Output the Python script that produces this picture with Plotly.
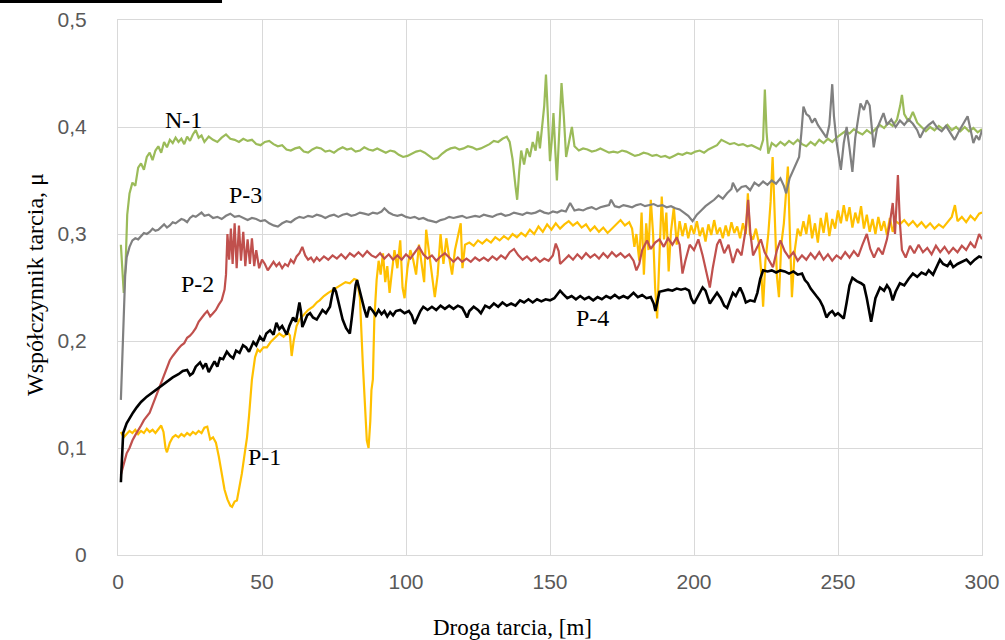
import plotly.graph_objects as go

# ---- friction coefficient vs sliding distance ----

# N-1 (green)
n1_dist = [1, 1.5, 2, 2.6, 3.2, 4, 5, 6, 7, 8, 9, 10, 11, 12, 13, 14, 15, 16, 17, 18, 19, 20,
           21, 22, 23, 24, 25, 26, 27, 28, 29, 30, 31.5, 33, 34.5, 36, 37.5, 39, 40.5, 42, 43.5,
           45, 46.5, 48, 49.5, 51, 52.5, 54, 55.5, 57, 58.5, 60, 61.5, 63, 64.5, 66, 67.5, 69,
           70.5, 72, 73.5, 75, 76.5, 78, 79.5, 81, 82.5, 84, 85.5, 87, 88.5, 90, 91.5, 93, 94.5,
           96, 97.5, 99, 100.5, 102, 103.5, 105, 106.5, 108, 109.5, 111, 112.5, 114, 115.5, 117,
           118.5, 120, 121.5, 123, 124.5, 126, 127.5, 129, 130.5, 132, 133.5, 135, 136, 137, 138,
           138.6, 139.3, 140, 141, 142, 143, 144, 145, 145.8, 146.5, 147.2, 148, 148.6, 149.3,
           150, 150.7, 151.2, 151.8, 152.4, 153.2, 154, 154.8, 155.6, 156.6, 157.6, 158.5, 160,
           161.5, 163, 164.5, 166, 167.5, 169, 170.5, 172, 173.5, 175, 176.5, 178, 179.5, 181,
           182.5, 184, 185.5, 187, 188.5, 190, 191.5, 193, 194.5, 196, 197.5, 199, 200.5, 202,
           203.5, 205, 206.5, 208, 209.5, 211, 212.5, 214, 215.5, 217, 218.5, 220, 221.5, 223,
           224, 224.6, 225.2, 225.8, 227, 228.5, 230, 231.5, 233, 234.5, 236, 237.5, 239, 240.5,
           242, 243.5, 245, 246.5, 248, 249.5, 251, 252.5, 254, 255.5, 257, 258.5, 260, 261.5,
           263, 264.5, 266, 267.5, 269, 270.5, 271.6, 272.2, 273, 274.5, 276, 277.5, 279, 280.5,
           282, 283.5, 285, 286.5, 288, 289.5, 291, 292.5, 294, 295.5, 297, 298.5, 300]
n1_mu = [0.290, 0.262, 0.245, 0.268, 0.318, 0.338, 0.348, 0.345, 0.362, 0.366, 0.360, 0.372,
         0.376, 0.369, 0.378, 0.382, 0.376, 0.386, 0.381, 0.388, 0.385, 0.390, 0.386, 0.389,
         0.384, 0.391, 0.387, 0.393, 0.397, 0.390, 0.392, 0.386,
         0.391, 0.388, 0.386, 0.390, 0.393, 0.389, 0.388, 0.386, 0.389, 0.387,
         0.388, 0.384, 0.383, 0.386, 0.387, 0.384, 0.382, 0.383, 0.379, 0.378,
         0.380, 0.381, 0.377, 0.376, 0.379, 0.381, 0.380, 0.377, 0.378, 0.376,
         0.379, 0.381, 0.379, 0.380, 0.377, 0.378, 0.381, 0.379, 0.378, 0.380,
         0.378, 0.376, 0.378, 0.377, 0.374, 0.372, 0.373, 0.375, 0.377, 0.378,
         0.376, 0.373, 0.370, 0.371, 0.375, 0.378, 0.380, 0.381, 0.379, 0.380,
         0.382, 0.381, 0.379, 0.380, 0.382, 0.384, 0.387, 0.386, 0.389, 0.391,
         0.386, 0.370, 0.345, 0.332, 0.358, 0.378, 0.365, 0.380, 0.372, 0.386, 0.378, 0.396,
         0.380, 0.400, 0.420, 0.449, 0.410, 0.368, 0.390, 0.413, 0.380, 0.350, 0.395, 0.441,
         0.410, 0.372, 0.386, 0.400, 0.382,
         0.378, 0.380, 0.379, 0.377, 0.378, 0.380, 0.378, 0.376, 0.377, 0.376,
         0.378, 0.377, 0.375, 0.373, 0.374, 0.376, 0.375, 0.373, 0.374, 0.372,
         0.373, 0.371, 0.373, 0.375, 0.374, 0.376, 0.375, 0.377, 0.378, 0.376,
         0.379, 0.381, 0.383, 0.388, 0.386, 0.384, 0.385, 0.383, 0.384, 0.382,
         0.383, 0.381, 0.379,
         0.388, 0.435, 0.395, 0.375, 0.385, 0.382, 0.386, 0.383, 0.387, 0.384, 0.388, 0.384,
         0.382, 0.386, 0.383, 0.388, 0.385, 0.389, 0.386, 0.390, 0.393, 0.396, 0.394, 0.398,
         0.395, 0.393, 0.397, 0.394, 0.398, 0.402, 0.399, 0.404, 0.401, 0.407, 0.420, 0.430,
         0.412, 0.405, 0.414, 0.404, 0.400, 0.396, 0.400, 0.397, 0.401, 0.398, 0.402, 0.397,
         0.400, 0.396, 0.400, 0.396, 0.399, 0.395, 0.398]

# P-3 (grey)
p3_dist = [1, 1.5, 2, 2.5, 3, 4, 5, 6, 7, 8, 9, 10, 11, 12, 13, 14, 15, 16, 17, 18, 19, 20, 21,
           22, 23, 24, 25, 26, 27, 28, 29, 30, 31.5, 33, 34.5, 36, 37.5, 39, 40.5, 42, 43.5, 45,
           46.5, 48, 49.5, 51, 52.5, 54, 55.5, 57, 58.5, 60, 61.5, 63, 64.5, 66, 67.5, 69, 70.5,
           72, 73.5, 75, 76.5, 78, 79.5, 81, 82.5, 84, 85.5, 87, 88.5, 90, 91.5, 92.5, 94, 95.5,
           97, 98.5, 100, 101.5, 103, 104.5, 106, 107.5, 109, 110.5, 112, 113.5, 115, 116.5,
           118, 119.5, 121, 122.5, 124, 125.5, 127, 128.5, 130, 131.5, 133, 134.5, 136, 137.5,
           139, 140.5, 142, 143.5, 145, 146.5, 148, 149.5, 151, 152.5, 154, 155.5, 157, 158.5,
           160, 161.5, 163, 164.5, 166, 167.5, 169, 170.5, 171.2, 172.5, 174, 175.5, 177, 178.5,
           180, 181.5, 183, 184.5, 186, 187.5, 189, 190.5, 192, 193.5, 195, 196.5, 198, 199.5,
           201, 202.5, 204, 205.5, 207, 208.5, 210, 211.5, 213, 213.5, 215, 216.5, 218, 219.5,
           221, 222.5, 224, 225.5, 227, 228.5, 230, 231.2, 232, 233.2, 234.5, 235.5, 236.5,
           237.3, 238, 239, 240, 241, 242, 243, 244, 245, 246, 247, 247.6, 248, 248.6, 249.5,
           250.3, 251, 252, 253, 254, 255, 256, 257, 257.8, 259, 260, 261, 261.8, 262.4, 263.5,
           265, 265.8, 267, 268.5, 270, 271.5, 273, 274.5, 276, 277.5, 278.5, 280, 281.5, 283,
           284.5, 286, 287.5, 289, 290.5, 292, 293.5, 295, 296, 297, 298, 299, 300]
p3_mu = [0.145, 0.190, 0.238, 0.262, 0.278, 0.288,
         0.294, 0.296, 0.295, 0.298, 0.301, 0.300, 0.302, 0.305, 0.303, 0.304, 0.307, 0.309,
         0.306, 0.308, 0.311, 0.310, 0.312, 0.314, 0.313, 0.311, 0.315, 0.317, 0.316, 0.318,
         0.320, 0.317,
         0.318, 0.315, 0.316, 0.314, 0.317, 0.319, 0.316, 0.317, 0.315, 0.313,
         0.315, 0.314, 0.312, 0.313, 0.310, 0.308, 0.307, 0.310, 0.312, 0.311,
         0.314, 0.316, 0.315, 0.317, 0.316, 0.318, 0.317, 0.315, 0.317, 0.318,
         0.316, 0.318, 0.319, 0.317, 0.318, 0.320, 0.319, 0.318, 0.320, 0.319,
         0.321, 0.324,
         0.320, 0.318, 0.317, 0.318, 0.316, 0.315, 0.316, 0.314, 0.315, 0.313,
         0.312, 0.311, 0.313, 0.314, 0.316, 0.315, 0.316, 0.317, 0.315, 0.316,
         0.317, 0.316, 0.318, 0.317, 0.316, 0.318, 0.319, 0.317, 0.318, 0.320,
         0.319, 0.318, 0.320, 0.319, 0.320, 0.322, 0.320, 0.319, 0.321, 0.320,
         0.322, 0.321, 0.329, 0.322, 0.323, 0.322, 0.324, 0.325, 0.323, 0.325,
         0.326, 0.327, 0.332,
         0.326, 0.325, 0.327, 0.326, 0.325, 0.327, 0.328, 0.326, 0.327, 0.328, 0.326, 0.327,
         0.325, 0.326, 0.324, 0.323,
         0.320, 0.317, 0.312, 0.318, 0.322, 0.326, 0.329, 0.332, 0.336, 0.333, 0.338, 0.342,
         0.348, 0.340, 0.344, 0.345, 0.341, 0.348, 0.345, 0.349, 0.346, 0.350, 0.347, 0.352,
         0.345, 0.338, 0.352, 0.360, 0.365, 0.372, 0.395, 0.419, 0.412, 0.410, 0.404, 0.408,
         0.402, 0.398, 0.394, 0.390, 0.402, 0.425, 0.440, 0.410, 0.386, 0.372, 0.360, 0.385,
         0.400, 0.380, 0.358, 0.390, 0.410, 0.422, 0.416, 0.425, 0.420, 0.395, 0.381, 0.398,
         0.408, 0.413, 0.402, 0.407, 0.400, 0.406, 0.402, 0.407, 0.403, 0.397, 0.390, 0.398,
         0.402, 0.405, 0.399, 0.396, 0.401, 0.394, 0.388, 0.396, 0.403, 0.410, 0.398, 0.385,
         0.392, 0.388, 0.397]

# P-2 (red)
p2_dist = [1, 2, 3, 4, 5, 6, 7, 8, 9, 10, 11, 12, 13, 14, 15, 16, 17, 18, 19, 20, 21, 22, 23,
           24, 25, 26, 27, 28, 29, 30, 31, 32, 33, 34, 35, 36, 37, 37.5, 38, 38.6, 39.2, 39.8,
           40.5, 41.2, 42, 42.7, 43.5, 44.2, 45, 45.8, 46.5, 47.3, 48, 49, 50, 51, 52, 53, 54, 55,
           56, 57, 58, 59, 60, 61, 62, 63, 64, 65, 66, 67, 68, 69, 70, 71.5, 73, 74.5, 76, 77.5,
           79, 80.5, 82, 83.5, 85, 86.5, 88, 89.5, 91, 92.5, 94, 95.5, 97, 98.5, 100, 101.5, 103,
           104.5, 106, 107.5, 109, 110.5, 112, 113.5, 115, 116.5, 118, 119.5, 121, 122.5, 124,
           125.5, 127, 128.5, 130, 131.5, 133, 134.5, 136, 137.5, 139, 140.5, 142, 143.5, 145,
           146.5, 148, 149.5, 151, 152, 153, 153.5, 155, 156.5, 158, 159.5, 161, 162.5, 164,
           165.5, 167, 168.5, 170, 171.5, 173, 174.5, 176, 177.5, 179, 180, 181, 182, 183.7, 185,
           186.5, 188, 189.5, 191, 192.5, 194, 195, 196, 197, 198.5, 200, 201.5, 203, 204.5,
           205.5, 206.5, 208, 209, 210.5, 212, 213.5, 215, 216.5, 218, 218.8, 219.6, 220.5, 222,
           223.2, 224.5, 226, 227.4, 228.8, 230, 231.5, 233, 234.5, 236, 237.5, 239, 240.5, 242,
           243.5, 245, 246.5, 248, 249.5, 251, 252.5, 254, 255.5, 257, 258.5, 260, 261.2, 262.5,
           264, 265.5, 267, 268, 269, 269.8, 270.8, 271.5, 272.2, 273.5, 275, 276.5, 278, 279.5,
           281, 282.5, 284, 285.5, 287, 288.5, 290, 291.5, 293, 294.5, 296, 297.5, 299, 300]
p2_mu = [0.075, 0.086, 0.095, 0.100, 0.107, 0.112, 0.116, 0.121, 0.126, 0.130, 0.133, 0.140,
         0.147, 0.155, 0.161, 0.168, 0.176, 0.182, 0.186, 0.190, 0.193, 0.196, 0.198, 0.203,
         0.205, 0.208, 0.212, 0.218, 0.222, 0.225, 0.228, 0.223, 0.226, 0.229, 0.234, 0.238,
         0.248, 0.262, 0.300, 0.276, 0.305, 0.272, 0.310, 0.268, 0.308, 0.275, 0.302, 0.270,
         0.295, 0.272, 0.296, 0.270, 0.285, 0.268, 0.276, 0.272, 0.266, 0.270, 0.274, 0.270,
         0.273, 0.268, 0.272, 0.270, 0.276, 0.273, 0.279, 0.282, 0.288, 0.280, 0.276, 0.278,
         0.274, 0.278, 0.275, 0.279, 0.276, 0.280, 0.277, 0.281, 0.277, 0.282, 0.279, 0.283,
         0.279, 0.284, 0.280, 0.278, 0.282, 0.277, 0.281, 0.276, 0.280, 0.276, 0.281, 0.277,
         0.283, 0.288, 0.281, 0.277, 0.280, 0.275, 0.279, 0.282, 0.278, 0.274, 0.278, 0.274,
         0.277, 0.274, 0.278, 0.275, 0.278, 0.275, 0.279, 0.276, 0.280, 0.277, 0.283, 0.286,
         0.280, 0.276, 0.279, 0.275, 0.278, 0.274, 0.277, 0.275, 0.280, 0.291, 0.284, 0.272,
         0.276, 0.280, 0.276, 0.281, 0.277, 0.282, 0.278, 0.281, 0.277, 0.282, 0.278, 0.283,
         0.279, 0.282, 0.278, 0.281, 0.275, 0.266, 0.272, 0.285, 0.294, 0.286, 0.292, 0.295,
         0.288, 0.296, 0.290, 0.297, 0.290, 0.263, 0.275, 0.290, 0.285, 0.295, 0.280, 0.262,
         0.250, 0.268, 0.290, 0.295, 0.282, 0.290, 0.273, 0.286, 0.280, 0.305, 0.332, 0.300,
         0.280, 0.288, 0.295, 0.283, 0.275, 0.269, 0.285, 0.294, 0.284, 0.278, 0.283, 0.275,
         0.280, 0.276, 0.282, 0.277, 0.283, 0.276, 0.281, 0.275, 0.280, 0.277, 0.283, 0.278,
         0.284, 0.279, 0.290, 0.300, 0.286, 0.278, 0.287, 0.281, 0.295, 0.310, 0.329, 0.300,
         0.355, 0.310, 0.285, 0.278, 0.289, 0.282, 0.290, 0.283, 0.287, 0.281, 0.289, 0.283,
         0.288, 0.282, 0.287, 0.283, 0.289, 0.285, 0.292, 0.287, 0.300, 0.295]

# P-1 (amber)
p1_dist = [1, 2, 3, 4, 5, 6, 7, 8, 9, 10, 11, 12, 13, 14, 15, 15.8, 16.5, 17, 18, 19, 20, 21,
           22, 23, 24, 25, 26, 27, 28, 29, 30, 31, 32, 33, 34, 35, 36, 37, 38, 39, 39.6, 40.5,
           41.3, 42, 43, 44, 44.8, 45.5, 46.5, 47.6, 48.5, 49.3, 50.5, 51.7, 53, 54.5, 56, 57.5,
           59, 59.7, 60.3, 61, 62, 63, 64.5, 66, 67.7, 69, 70, 71.5, 73, 74.7, 76, 77.5, 79,
           80.5, 82, 83, 84, 85, 85.8, 86.4, 87, 87.6, 88, 88.5, 89, 89.8, 90.5, 91.2, 92, 92.8,
           93.5, 94.3, 95, 96, 97, 98, 98.8, 99.5, 100.5, 101.5, 102.5, 103.5, 104.5, 105.5,
           106.3, 107, 108, 108.8, 110, 111, 112, 113, 114, 115, 116, 117, 118.2, 119, 119.6,
           120.5, 122, 123.5, 125, 126.5, 128, 129.5, 131, 132.5, 134, 135.5, 137, 138.5, 140,
           141.5, 143, 144.5, 146, 147.5, 149, 150.5, 152, 153.5, 155, 156.5, 158, 159.5, 161,
           162.5, 164, 165.5, 167, 168.5, 170, 171.5, 173, 174.5, 176, 177.5, 178.5, 179.3, 180,
           181, 181.8, 182.6, 183.4, 184.2, 185, 185.8, 186.5, 187.2, 188, 188.8, 189.6, 190.4,
           191.2, 192, 193, 194, 195, 196, 197, 198, 199, 200, 201, 202, 203, 204, 205, 206,
           207, 208, 209, 210, 211, 212, 213, 214, 215, 216, 217, 218, 218.7, 219.4, 220.5,
           221.5, 222.5, 223.4, 224, 224.8, 225.8, 226.6, 227.3, 228, 228.8, 229.5, 230.3,
           231.2, 232, 232.6, 233.3, 234, 235, 236, 237, 238, 239, 240, 241, 242, 243, 244,
           245, 246, 247, 248, 249, 250, 251, 252, 253, 254, 255, 256, 257, 258, 259, 260, 261,
           262, 263, 264, 265, 266, 267, 268, 269, 270, 271.5, 273, 274.5, 276, 277.5, 279,
           280.5, 282, 283.5, 285, 286.5, 288, 289.5, 290.6, 291.5, 293, 294.5, 296, 297.5, 299,
           300]
p1_mu = [0.115, 0.110, 0.113, 0.116, 0.114, 0.117, 0.113, 0.116, 0.114, 0.118, 0.115, 0.117,
         0.114, 0.118, 0.121, 0.115, 0.100, 0.096, 0.105, 0.110, 0.112, 0.110, 0.113, 0.111,
         0.114, 0.112, 0.115, 0.113, 0.116, 0.114, 0.119, 0.120, 0.108, 0.110, 0.105, 0.092,
         0.076, 0.061, 0.052, 0.046, 0.045, 0.050, 0.051, 0.060, 0.076, 0.095, 0.110, 0.130,
         0.164, 0.185, 0.192, 0.190, 0.194, 0.194, 0.199, 0.203, 0.207, 0.204, 0.208, 0.205,
         0.186, 0.200, 0.214, 0.220, 0.225, 0.229, 0.232, 0.236, 0.238, 0.242, 0.245, 0.248,
         0.250, 0.253, 0.255, 0.254, 0.258, 0.257, 0.240, 0.179, 0.130, 0.107, 0.100, 0.125,
         0.154, 0.164, 0.220, 0.257, 0.275, 0.262, 0.282, 0.255, 0.270, 0.245, 0.262, 0.285,
         0.268, 0.294, 0.250, 0.240, 0.268, 0.285, 0.276, 0.262, 0.290, 0.270, 0.255, 0.304,
         0.282, 0.265, 0.241, 0.262, 0.300, 0.272, 0.296, 0.278, 0.262, 0.285, 0.300, 0.310,
         0.268, 0.290, 0.292, 0.289, 0.294, 0.291, 0.295, 0.292, 0.297, 0.294, 0.298, 0.295,
         0.300, 0.297, 0.301, 0.298, 0.304, 0.300, 0.307, 0.302, 0.309, 0.304, 0.310, 0.305,
         0.309, 0.312, 0.308, 0.311, 0.306, 0.309, 0.303, 0.307, 0.302, 0.306, 0.301, 0.305,
         0.309, 0.313, 0.308, 0.311, 0.305, 0.288, 0.300, 0.275, 0.320, 0.262, 0.310, 0.285,
         0.332, 0.300, 0.250, 0.221, 0.280, 0.335, 0.295, 0.320, 0.265, 0.302, 0.325, 0.290,
         0.312, 0.298, 0.310, 0.296, 0.308, 0.300, 0.312, 0.298, 0.306, 0.293, 0.309, 0.299,
         0.313, 0.300, 0.306, 0.296, 0.308, 0.298, 0.311, 0.301, 0.307, 0.296, 0.310, 0.300,
         0.338, 0.300, 0.295, 0.305, 0.292, 0.262, 0.232, 0.275, 0.300, 0.330, 0.372, 0.320,
         0.260, 0.241, 0.290, 0.310, 0.340, 0.363, 0.300, 0.241, 0.285, 0.305, 0.298, 0.312,
         0.300, 0.318, 0.296, 0.310, 0.292, 0.315, 0.301, 0.320, 0.298, 0.314, 0.305, 0.322,
         0.310, 0.327, 0.312, 0.325, 0.306, 0.320, 0.310, 0.326, 0.305, 0.318, 0.302, 0.314,
         0.300, 0.316, 0.303, 0.312, 0.299, 0.315, 0.302, 0.312, 0.309, 0.313, 0.308, 0.312,
         0.307, 0.311, 0.306, 0.310, 0.305, 0.309, 0.306, 0.311, 0.316, 0.327, 0.312, 0.316,
         0.311, 0.317, 0.313, 0.319, 0.320]

# P-4 (black)
p4_dist = [1, 1.3, 1.8, 3, 4, 5.2, 6.5, 8, 10, 12, 14.6, 16.5, 19, 21, 22.5, 24, 25, 26, 27,
           28.5, 29.5, 30.5, 31.5, 32.5, 33.5, 34.5, 35.4, 36.5, 37.8, 39, 40, 41, 42.2, 43.4,
           44.5, 45.5, 47, 48, 49.3, 50.5, 51.5, 52.8, 54, 55, 56, 57, 58.6, 59.5, 60.8, 61.8,
           62.5, 63, 63.5, 64, 64.8, 65.7, 66.7, 67.7, 69, 70, 71, 72.2, 73.6, 74.3, 75, 75.7,
           76.4, 77.2, 78, 79.2, 80.5, 81.2, 81.8, 82.5, 83, 83.6, 84.7, 85.5, 86.4, 87.3, 88.5,
           89.5, 90.5, 91.5, 92.5, 93.5, 94.5, 95.5, 96.5, 98, 99.5, 101, 102, 103, 104, 105,
           106, 107.5, 109, 110.5, 112, 113.5, 115, 116.5, 118, 119.5, 120.5, 121.2, 122, 123.5,
           125, 126, 127.5, 129, 130.5, 132, 133.5, 135, 136.5, 138, 139.6, 141, 142.5, 144,
           145.5, 147, 148.5, 150, 151.5, 152.5, 153.5, 154.5, 156, 157.5, 159, 160.5, 162,
           163.5, 165, 166.5, 168, 169.5, 171, 172.5, 174, 175.5, 177, 179, 180.5, 182, 183.5,
           185, 186, 186.6, 187.3, 188, 189.5, 191, 192.5, 194, 195.5, 197, 198.3, 199, 200,
           201, 202, 203, 204, 205.5, 206.7, 208, 209.3, 210.5, 211.5, 212.5, 213.5, 214.5, 216,
           217, 218, 219.5, 221, 222, 223, 224, 225.5, 227, 228.5, 230, 231.5, 233, 234.5, 236,
           237.5, 238.5, 239.5, 240.5, 241.5, 242.5, 243.7, 244.8, 246, 247, 248, 249, 250, 251,
           252, 253, 254, 255, 256.5, 258, 259, 260, 260.8, 261.5, 262.2, 263, 264.6, 266, 267,
           268, 269, 270, 271.5, 273, 274.5, 276, 277.5, 279, 280.5, 281.5, 283, 284.5, 285.4,
           286.5, 288, 289, 290, 291.5, 293, 294.6, 296, 297.5, 299, 300]
p4_mu = [0.068, 0.090, 0.114, 0.123, 0.128, 0.133, 0.138, 0.143, 0.148, 0.152, 0.157, 0.161,
         0.166, 0.169, 0.172, 0.173, 0.168, 0.170, 0.176, 0.180, 0.175, 0.179, 0.171, 0.176,
         0.181, 0.176, 0.184, 0.183, 0.190, 0.186, 0.184, 0.191, 0.189, 0.196, 0.194, 0.190,
         0.199, 0.196, 0.204, 0.200, 0.207, 0.210, 0.206, 0.217, 0.211, 0.214, 0.206, 0.214,
         0.222, 0.218, 0.230, 0.236, 0.228, 0.213, 0.218, 0.224, 0.226, 0.222, 0.220, 0.225,
         0.229, 0.226, 0.232, 0.242, 0.250, 0.246, 0.238, 0.228, 0.220, 0.212, 0.207, 0.222,
         0.238, 0.252, 0.257, 0.250, 0.238, 0.230, 0.222, 0.232, 0.228, 0.224, 0.229, 0.225,
         0.228, 0.223, 0.227, 0.224, 0.228, 0.229, 0.226, 0.228, 0.224, 0.216, 0.222, 0.228,
         0.232, 0.229, 0.232, 0.229, 0.233, 0.230, 0.233, 0.230, 0.233, 0.231, 0.226, 0.222,
         0.228, 0.232, 0.229, 0.226, 0.233, 0.231, 0.235, 0.232, 0.236, 0.233, 0.235, 0.233,
         0.238, 0.236, 0.239, 0.236, 0.239, 0.237, 0.239, 0.238, 0.240, 0.244, 0.247, 0.244,
         0.240, 0.242, 0.239, 0.242, 0.239, 0.241, 0.238, 0.241, 0.239, 0.242, 0.240, 0.243,
         0.240, 0.242, 0.240, 0.245, 0.241, 0.243, 0.240, 0.241, 0.235, 0.228, 0.236, 0.246,
         0.247, 0.248, 0.247, 0.249, 0.248, 0.249, 0.247, 0.240, 0.235, 0.240, 0.246, 0.250,
         0.247, 0.235, 0.240, 0.245, 0.240, 0.233, 0.231, 0.238, 0.245, 0.242, 0.250, 0.244,
         0.236, 0.238, 0.237, 0.245, 0.258, 0.266, 0.265, 0.266, 0.264, 0.266, 0.265, 0.263,
         0.265, 0.262, 0.263, 0.257, 0.254, 0.249, 0.245, 0.242, 0.238, 0.232, 0.222, 0.226,
         0.228, 0.224, 0.226, 0.223, 0.221, 0.236, 0.252, 0.259, 0.256, 0.254, 0.252, 0.240,
         0.228, 0.218, 0.228, 0.240, 0.250, 0.247, 0.252, 0.248, 0.238, 0.246, 0.254, 0.252,
         0.258, 0.263, 0.260, 0.264, 0.262, 0.266, 0.262, 0.270, 0.276, 0.272, 0.270, 0.274,
         0.269, 0.272, 0.274, 0.276, 0.272, 0.276, 0.279, 0.278]

# curve labels: text, distance, mu
curve_labels = [("N-1", 22.9, 0.4065), ("P-3", 44.1, 0.3364), ("P-2", 27.6, 0.2533),
                ("P-1", 50.7, 0.0916), ("P-4", 164.6, 0.2215)]

x_ticks = [0, 50, 100, 150, 200, 250, 300]
y_ticks = [0, 0.1, 0.2, 0.3, 0.4, 0.5]
y_tick_text = ["0", "0,1", "0,2", "0,3", "0,4", "0,5"]

x_title = "Droga tarcia, [m]"
y_title = "Współczynnik tarcia, μ"

series = [
    ("N-1", n1_dist, n1_mu, "#9BBB59", 2.2),
    ("P-1", p1_dist, p1_mu, "#FFC000", 2.2),
    ("P-2", p2_dist, p2_mu, "#C0504D", 2.2),
    ("P-3", p3_dist, p3_mu, "#808080", 2.2),
    ("P-4", p4_dist, p4_mu, "#000000", 2.6),
]

fig = go.Figure()
for name, xs, ys, color, w in series:
    fig.add_trace(go.Scatter(x=xs, y=ys, mode="lines", name=name,
                             line=dict(color=color, width=w), showlegend=False))

serif = "Liberation Serif, Times New Roman, serif"
sans = "Liberation Sans, Arial, sans-serif"
for text, xv, yv in curve_labels:
    fig.add_annotation(x=xv, y=yv, text=text, showarrow=False,
                       font=dict(family=serif, size=24, color="#000000"))

# axis titles, centred on the chart area like the spreadsheet original
fig.add_annotation(xref="paper", yref="paper", x=0.457, y=-0.136, text=x_title,
                   showarrow=False, xanchor="center", yanchor="middle",
                   font=dict(family=serif, size=23, color="#000000"))
fig.add_annotation(xref="paper", yref="paper", x=-0.096, y=0.505, text=y_title,
                   showarrow=False, textangle=-90, xanchor="center", yanchor="middle",
                   font=dict(family=serif, size=24, color="#000000"))

grid = "#D9D9D9"
fig.update_xaxes(range=[0, 300], tickvals=x_ticks, showgrid=True, gridcolor=grid,
                 gridwidth=1, zeroline=False, showline=True, linecolor=grid, mirror=True,
                 ticks="", automargin=False, ticklabelstandoff=8,
                 tickfont=dict(family=sans, size=21, color="#595959"))
fig.update_yaxes(range=[0, 0.5], tickvals=y_ticks, ticktext=y_tick_text, showgrid=True,
                 gridcolor=grid, gridwidth=1, zeroline=False, showline=True, linecolor=grid,
                 mirror=True, ticks="", automargin=False, ticklabelstandoff=26,
                 tickfont=dict(family=sans, size=21, color="#595959"))

# thin black rule along the top-left edge
fig.add_shape(type="rect", xref="paper", yref="paper", x0=-0.1366, x1=0.1204,
              y0=1.032, y1=1.04, fillcolor="#000000", line=dict(width=0), layer="above")

fig.update_layout(width=1005, height=640, margin=dict(l=118, r=23, t=20, b=85),
                  plot_bgcolor="#FFFFFF", paper_bgcolor="#FFFFFF")

fig.write_html("out.html")
